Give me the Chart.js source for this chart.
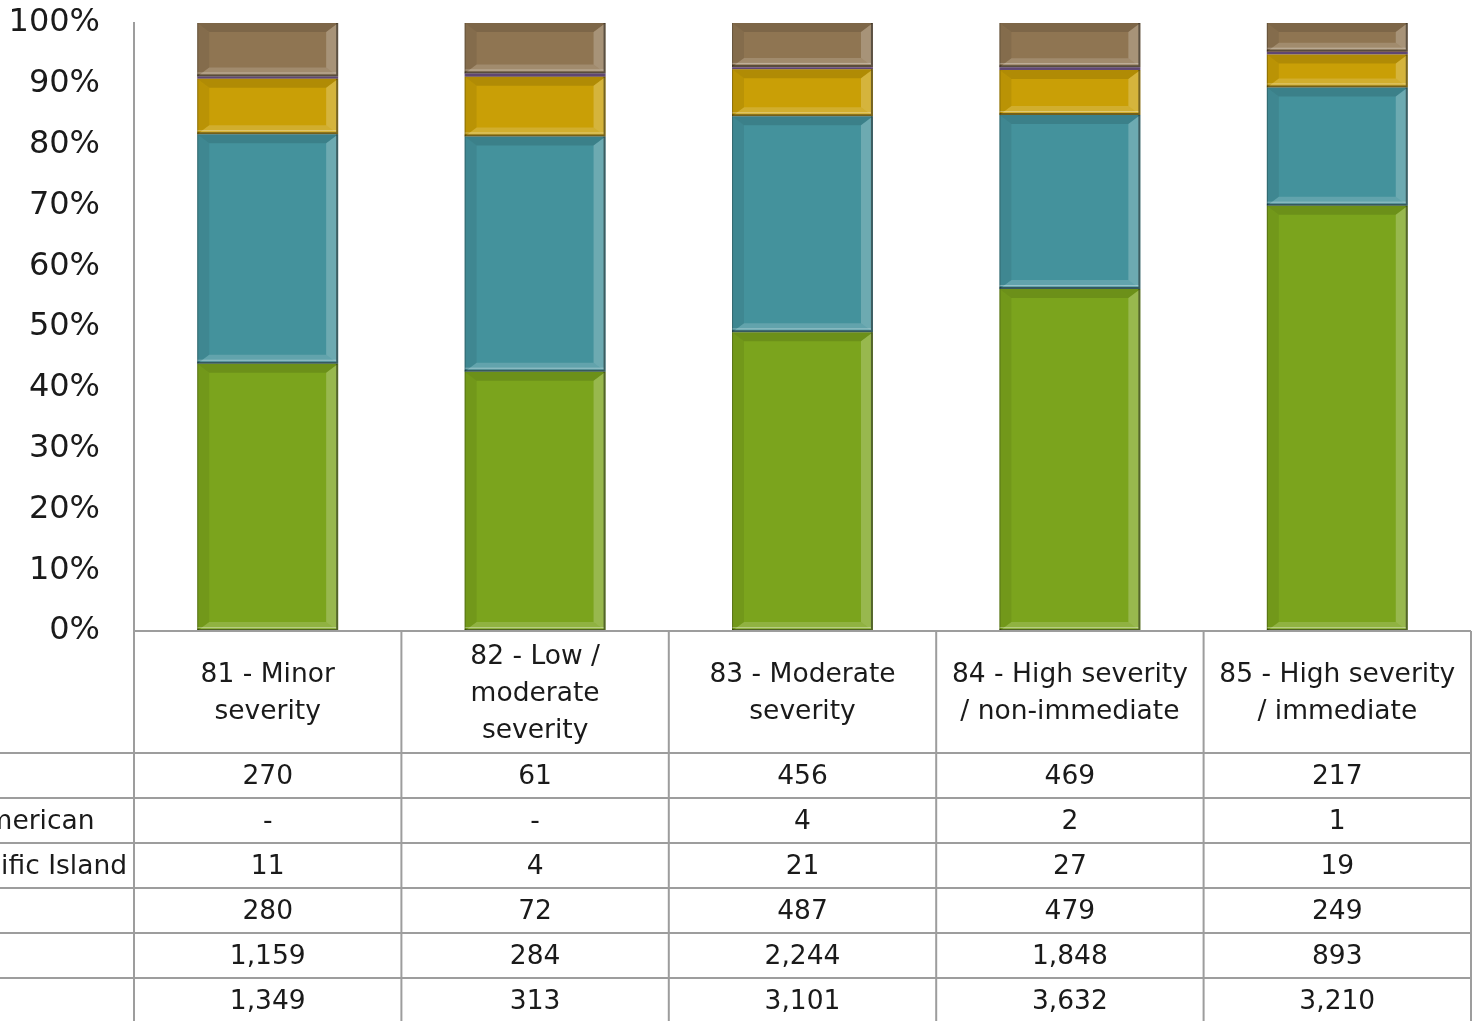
<!DOCTYPE html>
<html>
<head>
<meta charset="utf-8">
<script src="https://cdn.jsdelivr.net/npm/chart.js@4/dist/chart.umd.min.js"></script>
<style>
  html, body { margin: 0; padding: 0; background: #fff; }
  #wrap { width: 1476px; height: 1021px; }
</style>
</head>
<body>
<div id="wrap"><canvas id="chart"></canvas></div>
<script>
const categories = [
  ['81 - Minor', 'severity'],
  ['82 - Low /', 'moderate', 'severity'],
  ['83 - Moderate', 'severity'],
  ['84 - High severity', '/ non-immediate'],
  ['85 - High severity', '/ immediate']
];

// series, listed top of stack first (same order as the data table rows)
const seriesNames = ['Other', 'Native American', 'Asian/Pacific Island', 'Hispanic', 'Black', 'White'];
const otherVals    = [270, 61, 456, 469, 217];
const nativeVals   = [0, 0, 4, 2, 1];
const asianVals    = [11, 4, 21, 27, 19];
const hispanicVals = [280, 72, 487, 479, 249];
const blackVals    = [1159, 284, 2244, 1848, 893];
const whiteVals    = [1349, 313, 3101, 3632, 3210];
const seriesColors = ['#8f7552', '#c0504d', '#7f5f9a', '#c99f06', '#44929c', '#7ba41d'];

const yTicks = [0, 10, 20, 30, 40, 50, 60, 70, 80, 90, 100];

const allVals = [otherVals, nativeVals, asianVals, hispanicVals, blackVals, whiteVals];
const totals = categories.map((c, i) => allVals.reduce((s, arr) => s + arr[i], 0));

const FONT = '"DejaVu Sans", sans-serif';
const TXT = '#1a1a1a';
const LINE = '#9d9d9d';

// build datasets bottom-up for stacking
const datasets = [];
for (let k = allVals.length - 1; k >= 0; k--) {
  datasets.push({
    label: seriesNames[k],
    data: allVals[k].map((v, i) => v / totals[i] * 100),
    backgroundColor: seriesColors[k],
    borderWidth: 0,
    barPercentage: 0.527,
    categoryPercentage: 1
  });
}

// Excel-like bevel on each bar segment
const bevelPlugin = {
  id: 'bevel',
  afterDatasetsDraw(chart) {
    const ctx = chart.ctx;
    chart.data.datasets.forEach((ds, di) => {
      const meta = chart.getDatasetMeta(di);
      meta.data.forEach(bar => {
        const p = bar.getProps(['x', 'y', 'base', 'width'], true);
        const l = p.x - p.width / 2, r = p.x + p.width / 2;
        const t = Math.min(p.y, p.base), b = Math.max(p.y, p.base);
        const h = b - t;
        if (h < 0.5) return;
        ctx.save();
        if (h < 4) {
          ctx.fillStyle = 'rgba(0,0,0,0.25)';
          ctx.fillRect(l, t, r - l, h);
          ctx.restore();
          return;
        }
        const bx = 12, by = Math.min(9, h / 2 - 1);
        const poly = (pts, fill) => {
          ctx.beginPath();
          ctx.moveTo(pts[0][0], pts[0][1]);
          pts.slice(1).forEach(q => ctx.lineTo(q[0], q[1]));
          ctx.closePath();
          ctx.fillStyle = fill;
          ctx.fill();
        };
        poly([[l, t], [r, t], [r - bx, t + by], [l + bx, t + by]], 'rgba(0,0,0,0.12)');
        poly([[l, t], [l + bx, t + by], [l + bx, b - by], [l, b]], 'rgba(0,0,0,0.07)');
        poly([[r, t], [r, b], [r - bx, b - by], [r - bx, t + by]], 'rgba(255,255,255,0.22)');
        poly([[l, b], [l + bx, b - by], [r - bx, b - by], [r, b]], 'rgba(255,255,255,0.16)');
        ctx.strokeStyle = 'rgba(0,0,0,0.45)';
        ctx.lineWidth = 2;
        ctx.beginPath();
        ctx.moveTo(r - 1, t); ctx.lineTo(r - 1, b);
        ctx.moveTo(l, b - 1); ctx.lineTo(r, b - 1);
        ctx.stroke();
        ctx.strokeStyle = 'rgba(255,255,255,0.35)';
        ctx.lineWidth = 1;
        ctx.beginPath();
        ctx.moveTo(l, b - 3.5); ctx.lineTo(r - 2, b - 3.5);
        ctx.stroke();
        ctx.strokeStyle = 'rgba(0,0,0,0.25)';
        ctx.beginPath();
        ctx.moveTo(l + 0.5, t); ctx.lineTo(l + 0.5, b);
        ctx.stroke();
        ctx.restore();
      });
    });
  }
};

// data table under the plot
const tablePlugin = {
  id: 'dataTable',
  afterDraw(chart) {
    const ctx = chart.ctx;
    const xs = chart.scales.x;
    const area = chart.chartArea;
    const step = xs.getPixelForValue(1) - xs.getPixelForValue(0);
    const top = area.bottom;
    const headBottom = 753;
    const rowH = 45;
    const right = xs.getPixelForValue(categories.length - 1) + step / 2;
    ctx.save();
    ctx.strokeStyle = LINE;
    ctx.lineWidth = 2;
    ctx.beginPath();
    ctx.moveTo(area.left, top); ctx.lineTo(right, top);
    for (let i = 0; i <= seriesNames.length - 1; i++) {
      const y = headBottom + i * rowH;
      ctx.moveTo(0, y); ctx.lineTo(right, y);
    }
    for (let i = 0; i <= categories.length; i++) {
      const x = i === 0 ? area.left : xs.getPixelForValue(i - 1) + step / 2;
      ctx.moveTo(x, i === 0 ? area.top : top); ctx.lineTo(x, chart.height);
    }
    ctx.stroke();

    ctx.fillStyle = TXT;
    ctx.font = '26.5px ' + FONT;
    ctx.textAlign = 'center';
    ctx.textBaseline = 'middle';
    const headMid = (top + headBottom) / 2 + 2;
    categories.forEach((lines, i) => {
      const x = xs.getPixelForValue(i);
      const lh = 37;
      lines.forEach((ln, j) => {
        ctx.fillText(ln, x, headMid + (j - (lines.length - 1) / 2) * lh);
      });
    });
    allVals.forEach((arr, r) => {
      const y = headBottom + r * rowH + rowH / 2 + 2;
      arr.forEach((v, i) => {
        ctx.fillText(v === 0 ? '-' : v.toLocaleString('en-US'), xs.getPixelForValue(i), y);
      });
    });
    // row labels, left aligned, longest one ending just before the axis
    ctx.textAlign = 'left';
    const widest = Math.max(...seriesNames.map(n => ctx.measureText(n).width));
    const x0 = area.left - 7 - widest;
    seriesNames.forEach((n, r) => {
      ctx.fillText(n, x0, headBottom + r * rowH + rowH / 2 + 2);
    });
    ctx.restore();
  }
};

new Chart(document.getElementById('chart'), {
  type: 'bar',
  data: { labels: categories.map(c => c.join(' ')), datasets },
  options: {
    responsive: true,
    maintainAspectRatio: false,
    animation: false,
    layout: { padding: { top: 23, right: 5, bottom: 390, left: 0 } },
    plugins: { legend: { display: false }, tooltip: { enabled: false } },
    scales: {
      x: { stacked: true, display: false },
      y: {
        stacked: true,
        min: 0,
        max: 100,
        afterFit(scale) {
          scale.width = 134;
          scale.paddingTop = 0;
          scale.paddingBottom = 0;
        },
        afterBuildTicks(scale) { scale.ticks = yTicks.map(v => ({ value: v })); },
        grid: { display: false },
        border: { display: true, color: LINE, width: 2 },
        ticks: {
          padding: 26,
          color: TXT,
          font: { family: FONT, size: 32 },
          callback: v => v + '%'
        }
      }
    }
  },
  plugins: [bevelPlugin, tablePlugin]
});
</script>
</body>
</html>
